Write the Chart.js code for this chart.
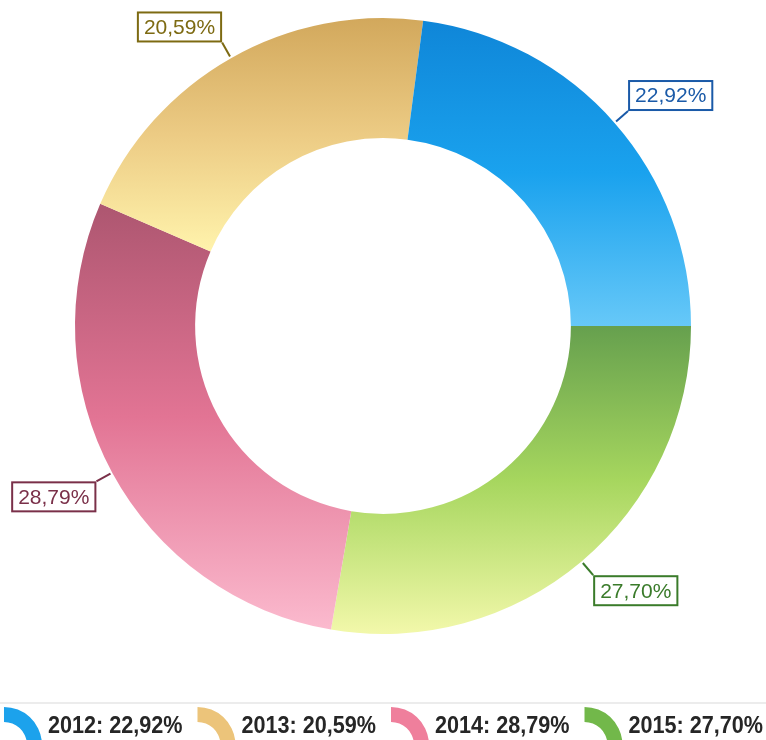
<!DOCTYPE html>
<html>
<head>
<meta charset="utf-8">
<script src="https://cdn.jsdelivr.net/npm/chart.js@4.4.1/dist/chart.umd.min.js"></script>
<style>
    html, body { margin: 0; padding: 0; background: #ffffff; }
    #wrap { width: 766px; height: 740px; }
</style>
</head>
<body>
<div id="wrap"><canvas id="donutChart" width="766" height="740"></canvas></div>
<script>
const years = ["2012", "2013", "2014", "2015"];
const shares = [22.92, 20.59, 28.79, 27.70];

const topColors = ["#0f86d8", "#d2a85c", "#ad5670", "#66a04e"];
const midColors = ["#1aa2ee", "#eccb84", "#e27494", "#a6d65e"];
const bottomColors = ["#66c8f8", "#fff3ac", "#fbbace", "#f2f8aa"];
const labelColors = ["#1a5aa8", "#7d6a12", "#7a3049", "#3a7b2a"];
const iconColors = ["#1ca2ec", "#ecc47a", "#ef7f9c", "#72b84a"];

// the slices run counter-clockwise from 3 o'clock, Chart.js goes clockwise
const order = [3, 2, 1, 0];
const CUTOUT = 0.61;

function pct(v) {
    return v.toFixed(2).replace(".", ",") + "%";
}

function sliceGradient(context) {
    const chart = context.chart;
    const area = chart.chartArea;
    const k = context.dataIndex;
    const i = order[k];
    if (!area) return midColors[i];

    const data = context.dataset.data;
    const total = data.reduce((a, b) => a + b, 0);
    const cx = (area.left + area.right) / 2;
    const cy = (area.top + area.bottom) / 2;
    const r = Math.min(area.right - area.left, area.bottom - area.top) / 2;

    let start = 0;
    for (let j = 0; j < k; j++) start += data[j] / total * Math.PI * 2;
    const end = start + data[k] / total * Math.PI * 2;

    let yMin = Infinity, yMax = -Infinity;
    for (let s = 0; s <= 60; s++) {
        const a = start + (end - start) * s / 60;
        [r, r * CUTOUT].forEach(rr => {
            const y = cy + rr * Math.sin(a);
            yMin = Math.min(yMin, y);
            yMax = Math.max(yMax, y);
        });
    }
    const g = chart.ctx.createLinearGradient(0, yMin, 0, yMax);
    g.addColorStop(0, topColors[i]);
    g.addColorStop(0.5, midColors[i]);
    g.addColorStop(1, bottomColors[i]);
    return g;
}

const boxLabels = {
    id: "boxLabels",
    afterDatasetsDraw(chart) {
        const ctx = chart.ctx;
        const meta = chart.getDatasetMeta(0);
        ctx.save();
        ctx.font = '21px "Liberation Sans", Arial, sans-serif';
        ctx.textAlign = "center";
        ctx.textBaseline = "middle";
        meta.data.forEach((arc, k) => {
            const i = order[k];
            const p = arc.getProps(["x", "y", "startAngle", "endAngle", "outerRadius"], true);
            const mid = (p.startAngle + p.endAngle) / 2;
            const dx = Math.cos(mid), dy = Math.sin(mid);
            const x0 = p.x + dx * (p.outerRadius + 2), y0 = p.y + dy * (p.outerRadius + 2);
            const x1 = p.x + dx * (p.outerRadius + 18), y1 = p.y + dy * (p.outerRadius + 18);
            const text = pct(shares[i]);
            const w = ctx.measureText(text).width + 14;
            const h = 31;
            const bx = dx >= 0 ? x1 : x1 - w;
            const by = dy < 0 ? y1 - h : y1;

            ctx.strokeStyle = labelColors[i];
            ctx.lineWidth = 2;
            ctx.beginPath();
            ctx.moveTo(x0, y0);
            ctx.lineTo(x1, y1);
            ctx.stroke();

            ctx.fillStyle = "#ffffff";
            ctx.fillRect(bx, by, w, h);
            ctx.strokeRect(bx + 1, by + 1, w - 2, h - 2);
            ctx.fillStyle = labelColors[i];
            ctx.fillText(text, bx + w / 2, by + h / 2 + 1);
        });
        ctx.restore();
    }
};

function drawIcon(ctx, x, yMid, i) {
    const cx = x, cy = yMid + 20;
    ctx.beginPath();
    ctx.arc(cx, cy, 38, -Math.PI / 2, -0.08);
    ctx.arc(cx, cy, 23, -0.08, -Math.PI / 2, true);
    ctx.closePath();
    ctx.fillStyle = iconColors[i];
    ctx.fill();
}

const bottomLegend = {
    id: "bottomLegend",
    afterDraw(chart) {
        const ctx = chart.ctx;
        const yMid = 725;
        const iconW = 36, gap = 9, itemGap = 14, squeeze = 0.9;
        ctx.save();
        ctx.strokeStyle = "#ececec";
        ctx.lineWidth = 2;
        ctx.beginPath();
        ctx.moveTo(0, 703);
        ctx.lineTo(chart.width, 703);
        ctx.stroke();

        ctx.font = 'bold 24px "Liberation Sans", Arial, sans-serif';
        ctx.textBaseline = "middle";
        const texts = years.map((y, i) => y + ": " + pct(shares[i]));
        const widths = texts.map(t => ctx.measureText(t).width * squeeze);
        const total = widths.reduce((a, b) => a + b, 0) + years.length * (iconW + gap) + (years.length - 1) * itemGap;
        let x = (chart.width - total) / 2;
        texts.forEach((t, i) => {
            drawIcon(ctx, x + 1, yMid, i);
            x += iconW + gap;
            ctx.save();
            ctx.translate(x, yMid + 1);
            ctx.scale(squeeze, 1);
            ctx.fillStyle = "#262626";
            ctx.fillText(t, 0, 0);
            ctx.restore();
            x += widths[i] + itemGap;
        });
        ctx.restore();
    }
};

const chart = new Chart(document.getElementById("donutChart"), {
    type: "doughnut",
    data: {
        labels: order.map(i => years[i]),
        datasets: [{
            data: order.map(i => shares[i]),
            backgroundColor: sliceGradient,
            borderWidth: 0
        }]
    },
    options: {
        responsive: false,
        animation: false,
        rotation: 90,
        cutout: (CUTOUT * 100) + "%",
        layout: { padding: { top: 18, bottom: 106, left: 0, right: 0 } },
        plugins: {
            legend: { display: false },
            tooltip: { enabled: false }
        }
    },
    plugins: [boxLabels, bottomLegend]
});
</script>
</body>
</html>
